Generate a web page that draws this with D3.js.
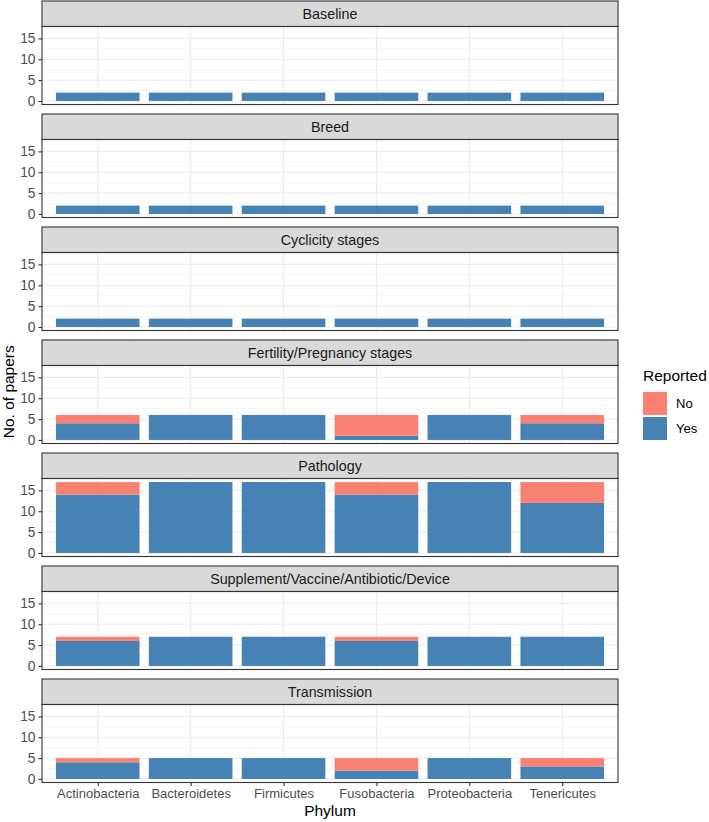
<!DOCTYPE html>
<html>
<head>
<meta charset="utf-8">
<script src="https://cdn.jsdelivr.net/npm/d3@7"></script>
<style>
  html, body { margin: 0; padding: 0; background: #fff; }
  svg { display: block; font-family: "Liberation Sans", Arial, Helvetica, sans-serif; }
</style>
</head>
<body>
<svg id="chart" width="709" height="822"></svg>
<script>
const phyla = ["Actinobacteria", "Bacteroidetes", "Firmicutes", "Fusobacteria", "Proteobacteria", "Tenericutes"];
const facets = ["Baseline", "Breed", "Cyclicity stages", "Fertility/Pregnancy stages", "Pathology", "Supplement/Vaccine/Antibiotic/Device", "Transmission"];
const reportedLevels = ["No", "Yes"];
// Yes counts per facet, per phylum
const yesValues = [
  [2, 2, 2, 2, 2, 2],
  [2, 2, 2, 2, 2, 2],
  [2, 2, 2, 2, 2, 2],
  [4, 6, 6, 1, 6, 4],
  [14, 17, 17, 14, 17, 12],
  [6, 7, 7, 6, 7, 7],
  [4, 5, 5, 2, 5, 3]
];
// No counts per facet, per phylum
const noValues = [
  [0, 0, 0, 0, 0, 0],
  [0, 0, 0, 0, 0, 0],
  [0, 0, 0, 0, 0, 0],
  [2, 0, 0, 5, 0, 2],
  [3, 0, 0, 3, 0, 5],
  [1, 0, 0, 1, 0, 0],
  [1, 0, 0, 3, 0, 2]
];
const yTicks = [0, 5, 10, 15];
const yMinor = [2.5, 7.5, 12.5, 17.5];

const colors = { No: "#FA8072", Yes: "#4682B4" };

const svg = d3.select("#chart");
const L = 42, R = 618;
const top0 = 1, pitch = 113, stripH = 25.5, panelH = 78;

const maxTotal = d3.max(facets.map((f, i) => d3.max(phyla.map((p, j) => yesValues[i][j] + noValues[i][j]))));
const pad = maxTotal * 0.05;

// ggplot discrete expansion: centers at 1..n, range [0.4, n+0.6], bar width 0.9
const x = d3.scalePoint().domain(phyla).range([L, R]).padding(0.6);
const unit = x.step();
const barW = 0.9 * unit;

facets.forEach((f, i) => {
  const sTop = top0 + i * pitch;
  const pTop = sTop + stripH;
  const pBot = pTop + panelH;
  const y = d3.scaleLinear().domain([-pad, maxTotal + pad]).range([pBot, pTop]);
  const g = svg.append("g");

  // strip
  g.append("rect").attr("x", L).attr("y", sTop).attr("width", R - L).attr("height", stripH)
    .attr("fill", "#D9D9D9").attr("stroke", "#333333").attr("stroke-width", 1.1);
  g.append("text").attr("x", (L + R) / 2).attr("y", sTop + stripH / 2).attr("dy", "0.36em")
    .attr("text-anchor", "middle").attr("font-size", 14.3).attr("fill", "#1A1A1A").text(f);

  // panel background
  g.append("rect").attr("x", L).attr("y", pTop).attr("width", R - L).attr("height", panelH).attr("fill", "#fff");

  // grid
  g.selectAll(".minor").data(yMinor.filter(v => v < maxTotal + pad)).enter().append("line")
    .attr("x1", L).attr("x2", R).attr("y1", d => y(d)).attr("y2", d => y(d))
    .attr("stroke", "#EBEBEB").attr("stroke-width", 0.55);
  g.selectAll(".major").data(yTicks).enter().append("line")
    .attr("x1", L).attr("x2", R).attr("y1", d => y(d)).attr("y2", d => y(d))
    .attr("stroke", "#EBEBEB").attr("stroke-width", 1.1);
  g.selectAll(".vmajor").data(phyla).enter().append("line")
    .attr("x1", d => x(d)).attr("x2", d => x(d)).attr("y1", pTop).attr("y2", pBot)
    .attr("stroke", "#EBEBEB").attr("stroke-width", 1.1);

  // bars (stacked: Yes at bottom, No on top)
  const rows = phyla.map((p, j) => ({ phylum: p, Yes: yesValues[i][j], No: noValues[i][j] }));
  const stack = d3.stack().keys(["Yes", "No"])(rows);
  stack.forEach(layer => {
    g.selectAll(null).data(layer.filter(d => d[1] > d[0])).enter().append("rect")
      .attr("x", d => x(d.data.phylum) - barW / 2)
      .attr("width", barW)
      .attr("y", d => y(d[1]))
      .attr("height", d => y(d[0]) - y(d[1]))
      .attr("fill", colors[layer.key]);
  });

  // panel border
  g.append("rect").attr("x", L).attr("y", pTop).attr("width", R - L).attr("height", panelH)
    .attr("fill", "none").attr("stroke", "#333333").attr("stroke-width", 1.1);

  // y axis
  const ya = g.append("g").attr("transform", `translate(${L},0)`)
    .call(d3.axisLeft(y).tickValues(yTicks).tickSize(3.5).tickPadding(3));
  ya.select(".domain").remove();
  ya.selectAll(".tick line").attr("stroke", "#333333").attr("stroke-width", 1.1);
  ya.selectAll(".tick text").attr("font-size", 13.8).attr("fill", "#4D4D4D")
    .attr("font-family", "Liberation Sans, Arial, sans-serif");

  if (i === facets.length - 1) {
    const xa = g.append("g").attr("transform", `translate(0,${pBot})`)
      .call(d3.axisBottom(x).tickSize(3.5).tickPadding(3));
    xa.select(".domain").remove();
    xa.selectAll(".tick line").attr("stroke", "#333333").attr("stroke-width", 1.1);
    xa.selectAll(".tick text").attr("font-size", 13).attr("fill", "#4D4D4D")
      .attr("font-family", "Liberation Sans, Arial, sans-serif");
  }
});

// axis titles
svg.append("text").attr("x", (L + R) / 2).attr("y", 816).attr("text-anchor", "middle")
  .attr("font-size", 15.5).attr("fill", "#000").text("Phylum");
svg.append("text").attr("transform", `translate(14,${(top0 + 6 * pitch + stripH + panelH + top0) / 2}) rotate(-90)`)
  .attr("text-anchor", "middle").attr("font-size", 15.5).attr("fill", "#000").text("No. of papers");

// legend
const lg = svg.append("g");
lg.append("text").attr("x", 643).attr("y", 381).attr("font-size", 15.5).attr("fill", "#000").text("Reported");
reportedLevels.forEach((k, idx) => {
  const ky = 392 + idx * 25;
  lg.append("rect").attr("x", 643).attr("y", ky).attr("width", 24).attr("height", 23).attr("fill", colors[k]);
  lg.append("text").attr("x", 676).attr("y", ky + 11.5).attr("dy", "0.35em")
    .attr("font-size", 13).attr("fill", "#000").text(k);
});
</script>
</body>
</html>
